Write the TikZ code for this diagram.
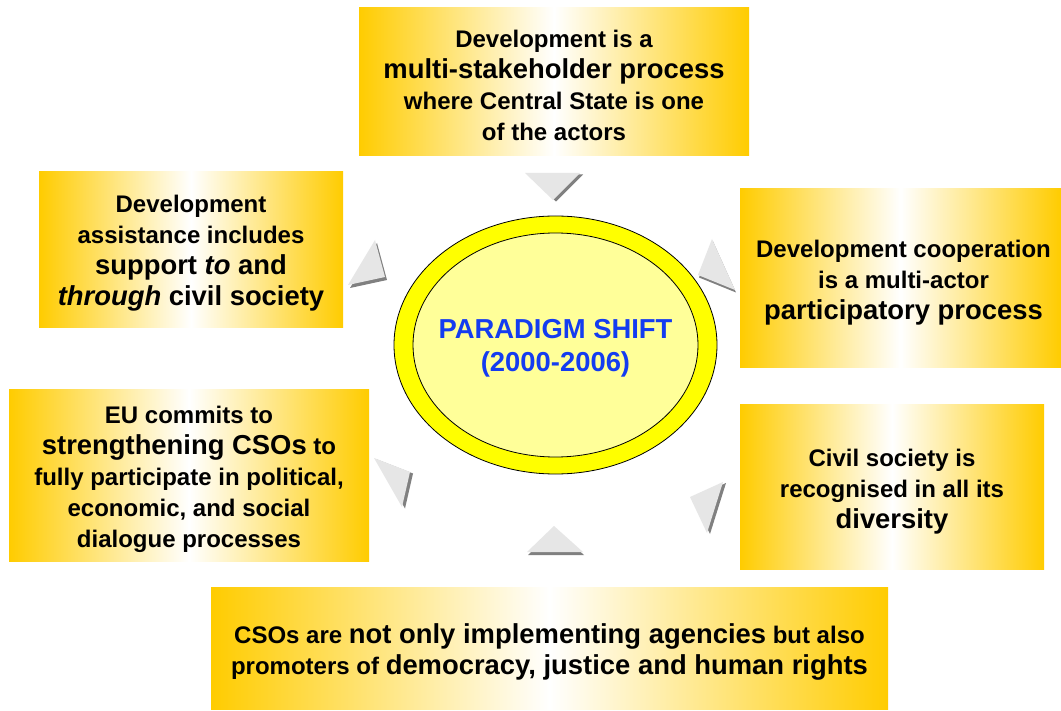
\documentclass[tikz,border=0pt]{standalone}
\usepackage{fontspec}
\setmainfont{Liberation Sans}
\usetikzlibrary{shapes.geometric}

\definecolor{gold}{RGB}{255,204,0}
\definecolor{ringyellow}{RGB}{255,255,0}
\definecolor{paleyellow}{RGB}{255,255,153}
\definecolor{shiftblue}{RGB}{20,60,240}
\definecolor{pointerlight}{RGB}{230,230,230}
\definecolor{pointerdark}{RGB}{128,128,128}

% two text sizes on a common line pitch
\newcommand\smtxt{\fontsize{24}{31}\selectfont\bfseries}
\newcommand\lgtxt{\fontsize{27.4}{31}\selectfont\bfseries}

\tikzset{
  statement/.style={rectangle, inner sep=0pt,
    left color=gold, right color=gold, middle color=white},
  stext/.style={inner sep=0pt, align=center, font=\smtxt},
  pointer/.style={fill=pointerlight},
  pointershadow/.style={fill=pointerdark},
}

\begin{document}
\begin{tikzpicture}[x=1pt, y=-1pt]
\useasboundingbox[fill=white] (0,0) rectangle (1061,711);

% statement boxes
\node[statement, minimum width=390, minimum height=148] (top) at (554,82) {};
\node[stext] (top-txt) at ([yshift=-3pt]top.center)
  {Development is a\\ {\lgtxt multi-stakeholder process}\\ where Central State is one\\ of the actors};

\node[statement, minimum width=304, minimum height=156] (upleft) at (191,250) {};
\node[stext] (upleft-txt) at ([yshift=-3pt]upleft.center)
  {Development\\ assistance includes\\ {\lgtxt support \textit{to} and}\\ {\lgtxt\textit{through} civil society}};

\node[statement, minimum width=321, minimum height=179] (upright) at (900.5,278.5) {};
\node[stext] (upright-txt) at ([xshift=3pt,yshift=-4pt]upright.center)
  {Development cooperation\\ is a multi-actor\\ {\lgtxt participatory process}};

\node[statement, minimum width=360, minimum height=171] (lowleft) at (189,475.5) {};
\node[stext] (lowleft-txt) at ([yshift=-4pt]lowleft.center)
  {EU commits to\\ {\lgtxt strengthening CSOs} to\\ fully participate in political,\\ economic, and social\\ dialogue processes};

\node[statement, minimum width=304, minimum height=164] (lowright) at (892,487) {};
\node[stext] (lowright-txt) at ([yshift=-5pt]lowright.center)
  {Civil society is\\ recognised in all its\\ {\lgtxt diversity}};

\node[statement, minimum width=677, minimum height=122] (bottom) at (549.5,648) {};
\node[stext] (bottom-txt) at ([yshift=-4pt]bottom.center)
  {CSOs are {\lgtxt not only implementing agencies} but also\\ promoters of {\lgtxt democracy, justice and human rights}};

% central ellipse: yellow ring around a pale core
\node[ellipse, draw=black, line width=0.8pt, fill=ringyellow,
  minimum width=323, minimum height=258, inner sep=0pt] (ring) at (555.5,345) {};
\node[ellipse, draw=black, line width=0.8pt, fill=paleyellow,
  minimum width=285, minimum height=224, inner sep=0pt] (core) at (555.5,345) {};
\node[inner sep=0pt, align=center, text=shiftblue,
  font=\fontsize{27.4}{33}\selectfont\bfseries] (core-txt) at ([yshift=-3pt]core.center)
  {PARADIGM SHIFT\\ (2000-2006)};

% pointers around the ellipse, each with its offset shadow
\fill[pointershadow] (528,174.5) -- (583,174.5) -- (556,201.5) -- cycle;
\fill[pointer] (525,173) -- (580,173) -- (553,200) -- cycle;

\fill[pointershadow] (377,243) -- (350,288) -- (387,280) -- cycle;
\fill[pointer] (375,240) -- (348,285) -- (385,277) -- cycle;

\fill[pointershadow] (713,241.5) -- (699,277.5) -- (736,292.5) -- cycle;
\fill[pointer] (712,239) -- (698,275) -- (735,290) -- cycle;

\fill[pointershadow] (377,459.5) -- (413,473.5) -- (405,508.5) -- cycle;
\fill[pointer] (374,458) -- (410,472) -- (402,507) -- cycle;

\fill[pointershadow] (726,483) -- (693,498) -- (710,534) -- cycle;
\fill[pointer] (723,482) -- (690,497) -- (707,533) -- cycle;

\fill[pointershadow] (555,529) -- (528,555) -- (584,555) -- cycle;
\fill[pointer] (554,526) -- (527,552) -- (583,552) -- cycle;
\end{tikzpicture}
\end{document}
